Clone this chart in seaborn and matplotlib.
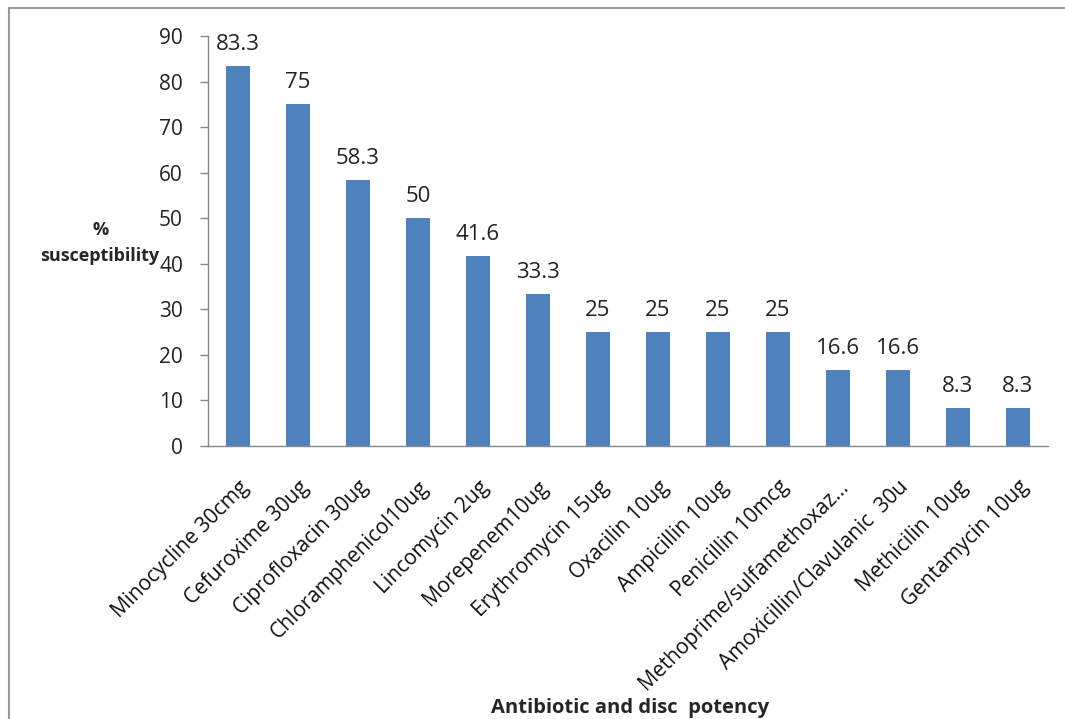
import matplotlib
matplotlib.use("Agg")
import matplotlib.pyplot as plt
import matplotlib.patches as mpatches
import seaborn as sns
import pandas as pd

antibiotics = [
    "Minocycline 30cmg", "Cefuroxime 30ug", "Ciprofloxacin 30ug",
    "Chloramphenicol10ug", "Lincomycin 2ug", "Morepenem10ug",
    "Erythromycin 15ug", "Oxacilin 10ug", "Ampicillin 10ug",
    "Penicillin 10mcg", "Methoprime/sulfamethoxaz...",
    "Amoxicillin/Clavulanic  30u", "Methicilin 10ug", "Gentamycin 10ug",
]
susceptibility = [83.3, 75, 58.3, 50, 41.6, 33.3, 25, 25, 25, 25, 16.6, 16.6, 8.3, 8.3]
value_labels = ["83.3", "75", "58.3", "50", "41.6", "33.3", "25", "25", "25", "25",
                "16.6", "16.6", "8.3", "8.3"]
y_ticks = [0, 10, 20, 30, 40, 50, 60, 70, 80, 90]

df = pd.DataFrame({"antibiotic": antibiotics, "pct": susceptibility})

sns.set_theme(style="white")
plt.rcParams["font.family"] = ["Open Sans", "DejaVu Sans"]

fig = plt.figure(figsize=(10.65, 7.19), dpi=100)
ax = fig.add_axes([0.1953, 0.3797, 0.7887, 0.5703])

sns.barplot(data=df, x="antibiotic", y="pct", color="#4F81BD", saturation=1,
            width=0.40, ax=ax, edgecolor="none")

n = len(antibiotics)
ax.set_xlim(-0.5, n - 0.5)
ax.set_ylim(0, 90)
ax.set_yticks(y_ticks)
ax.set_yticklabels([str(t) for t in y_ticks], fontsize=15, color="#222222")

ax.set_xticks(range(n))
ax.set_xticklabels(antibiotics, rotation=45, ha="right", rotation_mode="anchor",
                   fontsize=15, color="#111111")
ax.tick_params(axis="x", which="major", length=0, pad=22)
ax.set_xticks([i - 0.5 for i in range(n + 1)], minor=True)
ax.tick_params(axis="x", which="minor", length=6, color="#888888", width=1, direction="out")
ax.tick_params(axis="y", which="major", length=6, color="#888888", width=1,
               direction="out", left=True, pad=12)

for side in ["top", "right"]:
    ax.spines[side].set_visible(False)
for side in ["left", "bottom"]:
    ax.spines[side].set_color("#888888")
    ax.spines[side].set_linewidth(1)

for bar, lab in zip(ax.patches, value_labels):
    ax.annotate(lab, (bar.get_x() + bar.get_width() / 2, bar.get_height()),
                xytext=(0, 8), textcoords="offset points", ha="center", va="bottom",
                fontsize=16, color="#222222")

ax.set_xlabel("")
ax.set_ylabel("")
fig.text(0.094, 0.662, "%\nsusceptibility", ha="center", va="center",
         fontsize=13, fontweight="bold", linespacing=1.6)
fig.text(0.592, 0.015, "Antibiotic and disc  potency", ha="center", va="center",
         fontsize=14.5, fontweight="bold")

fig.patches.append(mpatches.Rectangle((0.008, -0.01), 1.2, 0.999, transform=fig.transFigure,
                                      fill=False, edgecolor="#999999", linewidth=1.5))

fig.savefig("out.png", dpi=100, facecolor="white")
